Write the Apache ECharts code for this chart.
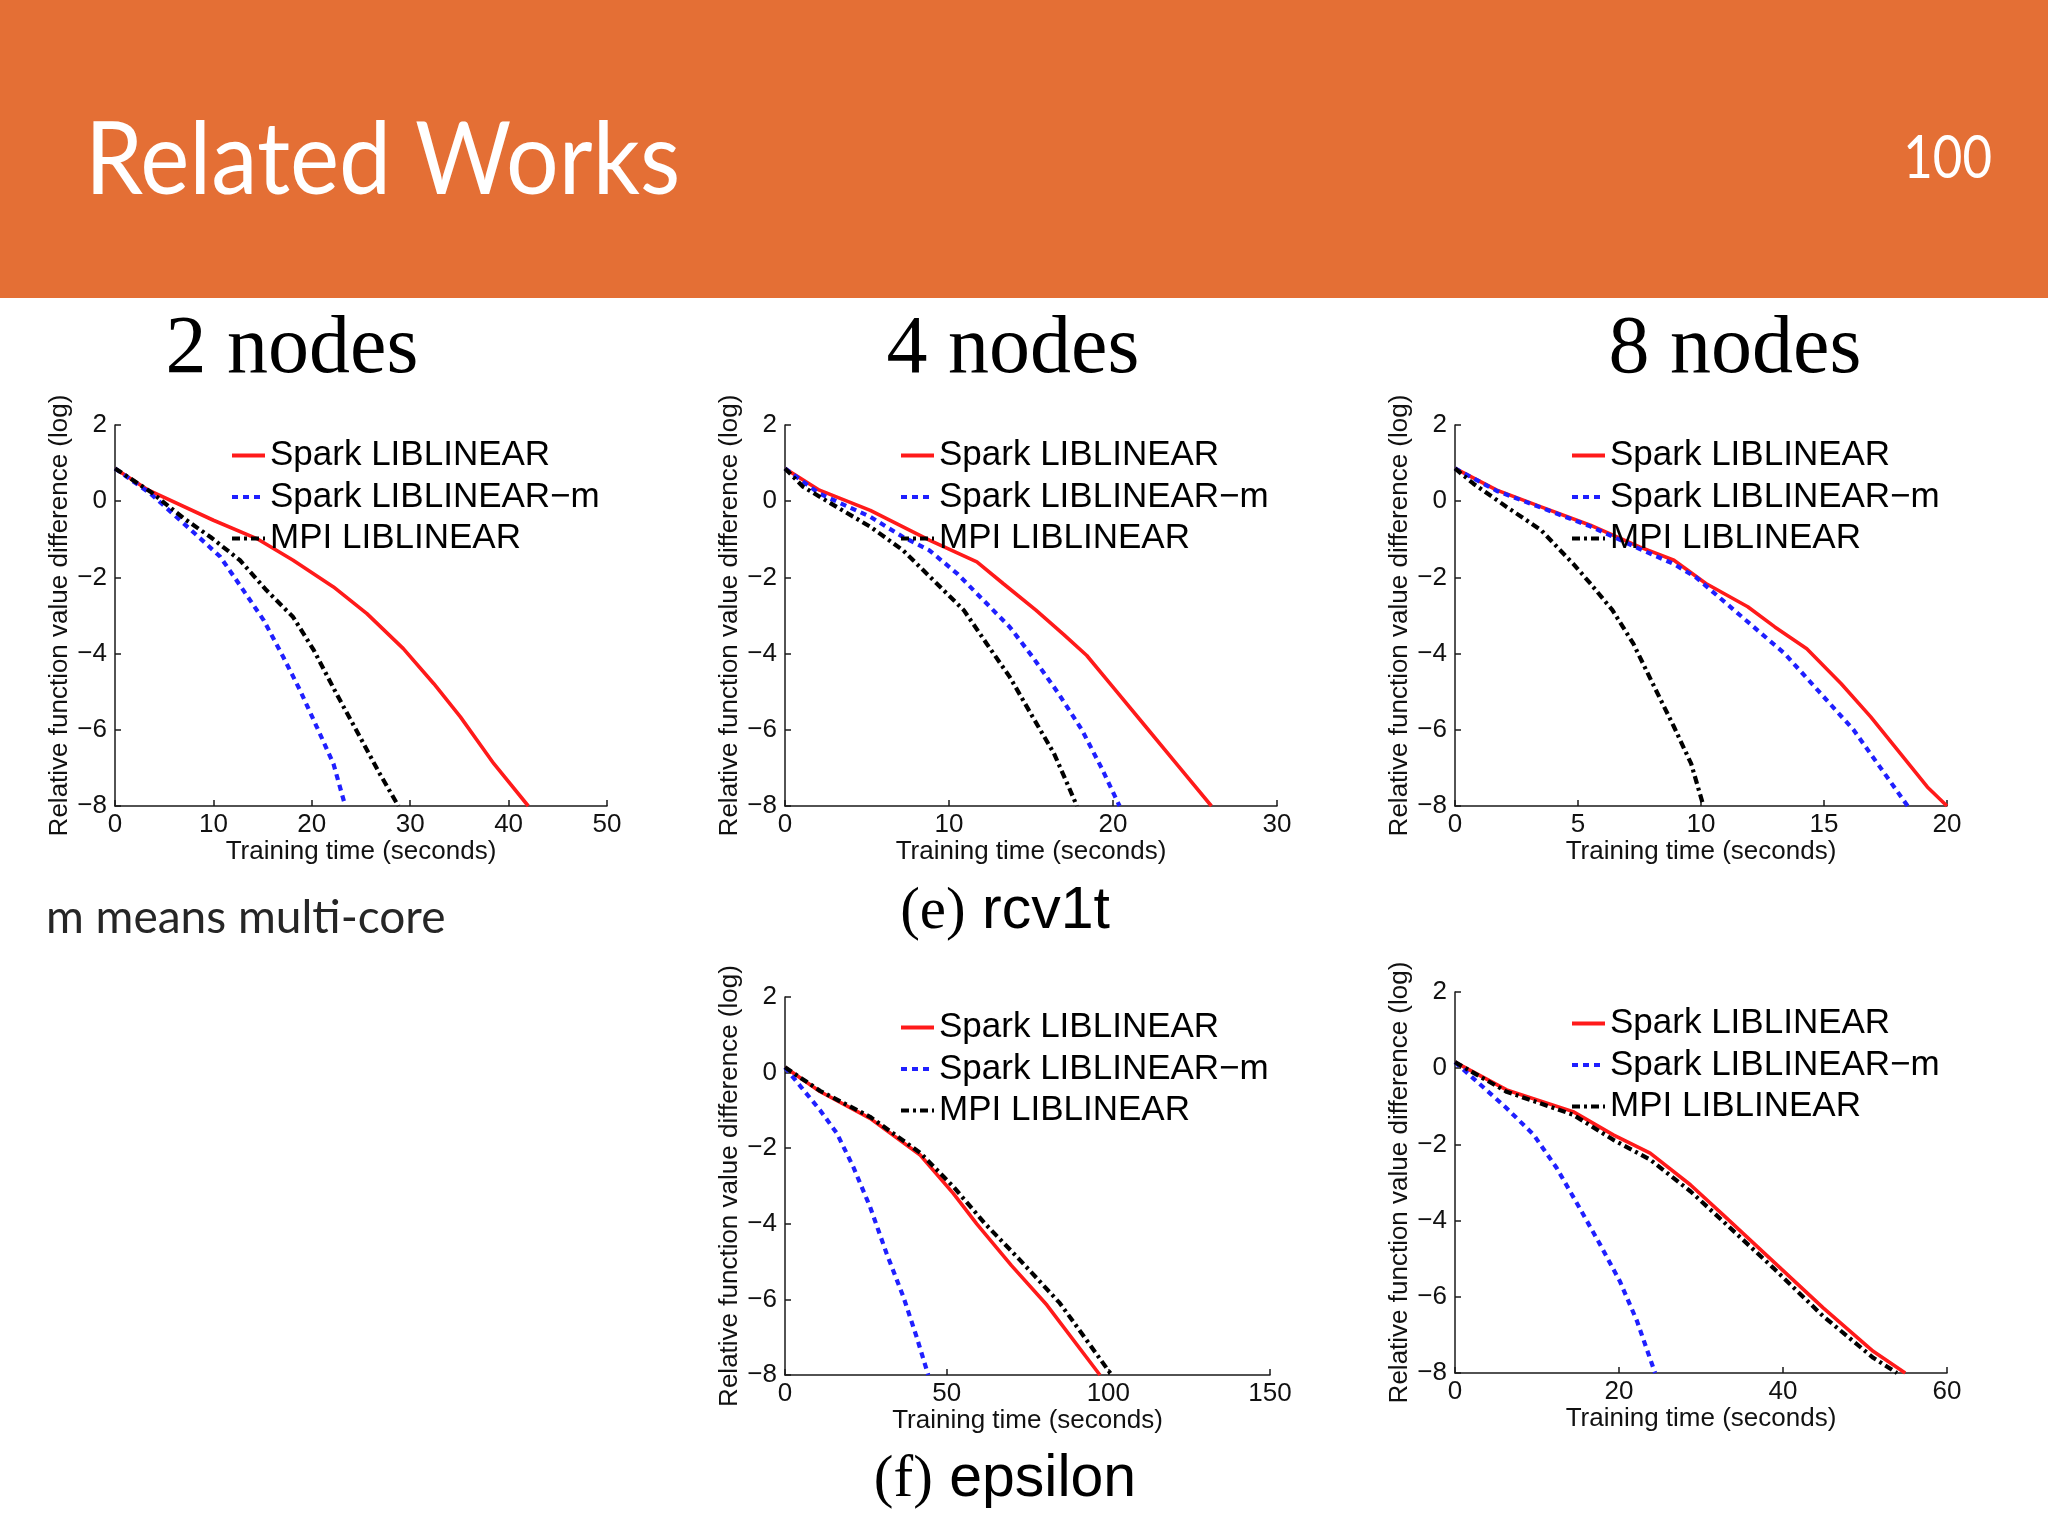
<!DOCTYPE html>
<html>
<head>
<meta charset="utf-8">
<script src="https://cdn.jsdelivr.net/npm/echarts@6/dist/echarts.min.js"></script>
<style>
html,body{margin:0;padding:0;background:#fff;}
#chart{width:2048px;height:1536px;}
</style>
</head>
<body>
<div id="chart"></div>
<script>
// ---- data (x: training time in seconds, y: relative function value difference, log) ----
const seriesNames = ['Spark LIBLINEAR', 'Spark LIBLINEAR\u2212m', 'MPI LIBLINEAR'];
const panelTitles = ['2 nodes', '4 nodes', '8 nodes'];

// rcv1t, 2 nodes
const rcv2_spark  = [[0,0.86],[3.4,0.29],[10,-0.5],[14.4,-0.98],[18.1,-1.55],[22.2,-2.25],[25.6,-2.95],[29.3,-3.87],[32.4,-4.79],[35.1,-5.66],[38.5,-6.89],[42,-8]];
const rcv2_sparkm = [[0,0.86],[3.6,0.2],[8.3,-0.89],[10.7,-1.46],[13.05,-2.34],[15.1,-3.12],[17.1,-4.09],[18.8,-4.96],[20.5,-5.92],[22.2,-6.89],[23.4,-8]];
const rcv2_mpi    = [[0,0.86],[3.6,0.25],[7,-0.45],[9.7,-0.94],[12.7,-1.55],[15.4,-2.34],[18.1,-3.04],[20.2,-3.91],[22.5,-5.05],[24.9,-6.19],[26.9,-7.15],[28.8,-8]];
// rcv1t, 4 nodes
const rcv4_spark  = [[0,0.86],[2.1,0.29],[5.2,-0.24],[8.8,-1.02],[11.7,-1.59],[13.3,-2.16],[15.3,-2.86],[17,-3.5],[18.4,-4.05],[20,-4.88],[22,-5.92],[24,-6.96],[26,-8]];
const rcv4_sparkm = [[0,0.86],[2.1,0.2],[5.2,-0.41],[7.2,-0.94],[8.8,-1.29],[10.5,-1.9],[12.1,-2.6],[13.7,-3.3],[15.1,-4.09],[16.6,-5.0],[18.1,-6.0],[19.3,-7.0],[20.4,-8]];
const rcv4_mpi    = [[0,0.86],[1.1,0.38],[3.15,-0.15],[5.2,-0.67],[7.2,-1.29],[9.25,-2.16],[10.9,-2.86],[12.3,-3.74],[13.7,-4.61],[15.1,-5.66],[16.4,-6.62],[17.3,-7.5],[17.8,-8]];
// rcv1t, 8 nodes
const rcv8_spark  = [[0,0.86],[1.7,0.29],[3.5,-0.15],[5.5,-0.63],[7.5,-1.2],[8.9,-1.55],[10.2,-2.16],[11.9,-2.77],[13,-3.3],[14.3,-3.87],[15.7,-4.79],[16.9,-5.66],[18.1,-6.62],[19.2,-7.5],[20,-8]];
const rcv8_sparkm = [[0,0.86],[1.7,0.27],[3.5,-0.17],[5.5,-0.66],[7.5,-1.25],[8.9,-1.65],[9.8,-2],[11.6,-3],[13.4,-4],[14.8,-5],[16.2,-6],[17.3,-7],[18.4,-8]];
const rcv8_mpi    = [[0,0.86],[0.75,0.46],[2.1,-0.15],[3.5,-0.76],[4.8,-1.64],[5.5,-2.16],[6.4,-2.86],[7.25,-3.74],[8.1,-4.87],[8.9,-5.92],[9.6,-6.89],[10.1,-8]];
// epsilon, 4 nodes
const eps4_spark  = [[0,0.14],[10.8,-0.5],[26.3,-1.21],[41.8,-2.18],[52.1,-3.2],[59.3,-4],[70,-5.1],[81,-6.15],[97.4,-8]];
const eps4_sparkm = [[0,0.14],[5.7,-0.46],[10.8,-0.99],[16,-1.6],[21.1,-2.49],[26.3,-3.55],[31.4,-4.78],[36.6,-5.93],[40.7,-6.99],[44.3,-8]];
const eps4_mpi    = [[0,0.14],[10.8,-0.48],[26.3,-1.17],[41.8,-2.12],[52.1,-3.02],[61.9,-4],[72.7,-4.96],[85,-6.1],[93.3,-7.08],[101,-8]];
// epsilon, 8 nodes
const eps8_spark  = [[0,0.16],[6.3,-0.57],[14.4,-1.14],[19.3,-1.75],[23.8,-2.23],[28.7,-3.06],[32.7,-3.85],[38.8,-5.07],[44.9,-6.29],[51,-7.43],[54.9,-8]];
const eps8_sparkm = [[0,0.16],[2.2,-0.26],[6.3,-1.05],[9.6,-1.75],[12.4,-2.62],[15.2,-3.67],[17.7,-4.63],[20.1,-5.59],[22.2,-6.64],[24.4,-8]];
const eps8_mpi    = [[0,0.16],[6.3,-0.62],[14.4,-1.22],[19.3,-1.88],[23.8,-2.4],[28.7,-3.23],[32.7,-4.02],[38.8,-5.24],[44.9,-6.51],[51,-7.6],[53.9,-8]];

// axis ranges
const xMax      = [50, 30, 20, 150, 60];
const xInterval = [10, 10, 5, 50, 20];
const yMin = -8, yMax = 2, yInterval = 2;

const panelData = [
  [rcv2_spark, rcv2_sparkm, rcv2_mpi],
  [rcv4_spark, rcv4_sparkm, rcv4_mpi],
  [rcv8_spark, rcv8_sparkm, rcv8_mpi],
  [eps4_spark, eps4_sparkm, eps4_mpi],
  [eps8_spark, eps8_sparkm, eps8_mpi]
];

// ---- layout / style ----
const grids = [
  {left:115, top:425, width:492, height:381},
  {left:785, top:425, width:492, height:381},
  {left:1455, top:425, width:492, height:381},
  {left:785, top:997, width:485, height:378},
  {left:1455, top:992, width:492, height:381}
];
const legendPos = [
  {left:225, top:433},
  {left:894, top:433},
  {left:1565, top:433},
  {left:894, top:1005},
  {left:1565, top:1001}
];
const lineStyles = [
  {color:'#ff1a1a', width:3.6, type:'solid'},
  {color:'#1f1fff', width:4.2, type:[6,5]},
  {color:'#000000', width:4.2, type:[8,4,3,4]}
];
const SANS = 'Liberation Sans, Arial, sans-serif';
const SERIF = 'Liberation Serif, Times New Roman, serif';
const axisCol = '#1a1a1a';

const xAxes = [], yAxes = [], series = [], legends = [];
grids.forEach((g, i) => {
  xAxes.push({
    gridIndex:i, type:'value', min:0, max:xMax[i], interval:xInterval[i],
    name:'Training time (seconds)', nameLocation:'middle', nameGap:31,
    nameTextStyle:{fontSize:26, fontFamily:SANS, color:'#111'},
    axisLine:{show:true, onZero:false, lineStyle:{color:axisCol, width:1.5}},
    axisTick:{show:true, inside:true, length:6, lineStyle:{color:axisCol, width:1.5}},
    axisLabel:{fontSize:26, fontFamily:SANS, color:'#111', margin:6},
    splitLine:{show:false}
  });
  yAxes.push({
    gridIndex:i, type:'value', min:yMin, max:yMax, interval:yInterval,
    name:'Relative function value difference (log)', nameLocation:'middle', nameGap:42,
    nameTextStyle:{fontSize:26, fontFamily:SANS, color:'#111'},
    axisLine:{show:true, onZero:false, lineStyle:{color:axisCol, width:1.5}},
    axisTick:{show:true, inside:true, length:6, lineStyle:{color:axisCol, width:1.5}},
    axisLabel:{fontSize:26, fontFamily:SANS, color:'#111', margin:8,
      formatter:v => String(v).replace('-', '\u2212')},
    splitLine:{show:false}
  });
  panelData[i].forEach((d, k) => {
    series.push({
      type:'line', name:seriesNames[k], xAxisIndex:i, yAxisIndex:i,
      data:d, symbol:'none', showSymbol:false, smooth:false,
      lineStyle:lineStyles[k], itemStyle:{color:lineStyles[k].color},
      z:2 + k, animation:false
    });
  });
  legends.push({
    data:seriesNames, orient:'vertical', left:legendPos[i].left, top:legendPos[i].top,
    itemWidth:33, itemHeight:14, itemGap:6.5, selectedMode:false,
    itemStyle:{opacity:0},
    lineStyle:{width:4},
    textStyle:{fontSize:35, fontFamily:SANS, color:'#000'}
  });
});

function txt(text, x, y, size, family, fill, align, extra) {
  return Object.assign({
    type:'text', x:x, y:y, silent:true,
    style:{text:text, fontSize:size, fontFamily:family, fill:fill,
      align:align, verticalAlign:'middle', textAlign:align, textVerticalAlign:'middle'}
  }, extra || {});
}

const graphics = [
  {type:'rect', shape:{x:0, y:0, width:2048, height:298}, style:{fill:'#E46F35'}, silent:true},
  txt('Related Works', 85, 162, 100, 'Lato, sans-serif', '#ffffff', 'left', {scaleX:0.93}),
  txt('100', 1992, 159, 60, 'Lato, sans-serif', '#ffffff', 'right', {scaleX:0.85}),
  txt(panelTitles[0], 292, 350, 82, SERIF, '#000', 'center'),
  txt(panelTitles[1], 1013, 350, 82, SERIF, '#000', 'center'),
  txt(panelTitles[2], 1735, 350, 82, SERIF, '#000', 'center'),
  txt('m means multi-core', 46, 918, 46, 'Lato, sans-serif', '#262626', 'left'),
  {type:'text', x:1005, y:912, silent:true,
   style:{text:'{a|(e)} {b|rcv1t}', fontSize:59, fontFamily:SANS, fill:'#000',
     align:'center', verticalAlign:'middle',
     rich:{a:{fontFamily:SERIF, fontSize:59, fill:'#000'}, b:{fontFamily:SANS, fontSize:59, fill:'#000'}}}},
  {type:'text', x:1005, y:1480, silent:true,
   style:{text:'{a|(f)} {b|epsilon}', fontSize:59, fontFamily:SANS, fill:'#000',
     align:'center', verticalAlign:'middle',
     rich:{a:{fontFamily:SERIF, fontSize:59, fill:'#000'}, b:{fontFamily:SANS, fontSize:59, fill:'#000'}}}}
];

const chart = echarts.init(document.getElementById('chart'), null, {renderer:'canvas'});
chart.setOption({
  animation:false,
  backgroundColor:'#ffffff',
  grid:grids,
  xAxis:xAxes,
  yAxis:yAxes,
  legend:legends,
  series:series,
  graphic:graphics
});
</script>
</body>
</html>
